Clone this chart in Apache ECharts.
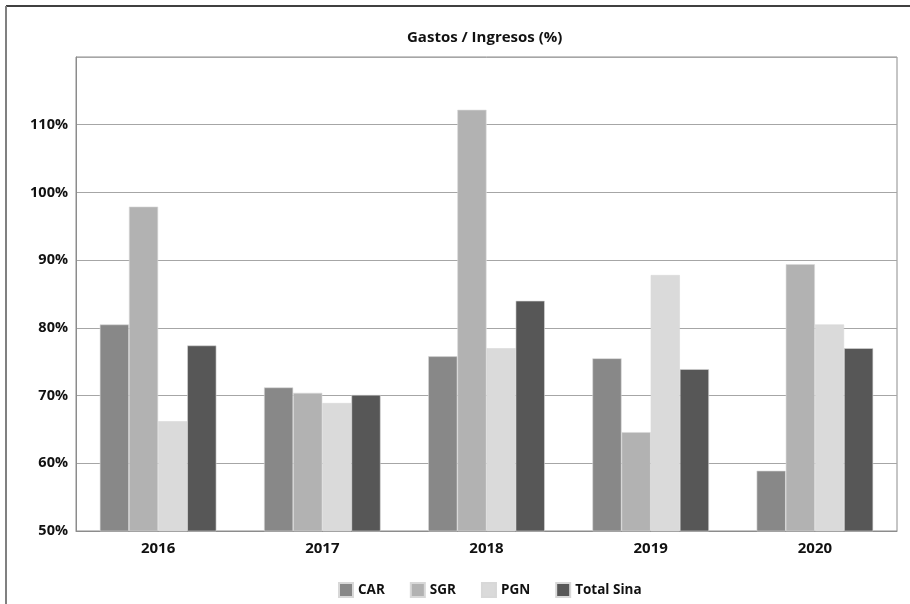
<!DOCTYPE html>
<html>
<head>
<meta charset="utf-8">
<script src="https://cdn.jsdelivr.net/npm/echarts@6/dist/echarts.min.js"></script>
<style>
  html, body { margin: 0; padding: 0; background: #fff; }
  #chart { width: 910px; height: 604px; }
</style>
</head>
<body>
<div id="chart"></div>
<script>
// Expense-to-income ratio by year and entity
const years = ['2016', '2017', '2018', '2019', '2020'];
const seriesNames = ['CAR', 'SGR', 'PGN', 'Total Sina'];
const carValues = [80.5, 71.2, 75.8, 75.5, 58.9];
const sgrValues = [97.9, 70.4, 112.2, 64.6, 89.4];
const pgnValues = [66.2, 68.9, 77.0, 87.8, 80.5];
const totalValues = [77.4, 70.1, 84.0, 73.9, 77.0];
const yTicks = [50, 60, 70, 80, 90, 100, 110];

const colors = ['#888888', '#b2b2b2', '#dadada', '#575757'];
const fontFamily = '"Open Sans", "Noto Sans", sans-serif';

const chart = echarts.init(document.getElementById('chart'));

const valueSets = [carValues, sgrValues, pgnValues, totalValues];

chart.setOption({
  animation: false,
  title: {
    text: 'Gastos / Ingresos (%)',
    left: 402,
    top: 25,
    textStyle: { fontFamily, fontSize: 15, fontWeight: 'bold', color: '#111' }
  },
  grid: {
    left: 76, right: 13, top: 57, bottom: 73,
    show: true, borderColor: '#8c8c8c', borderWidth: 1, backgroundColor: '#fff'
  },
  legend: {
    top: 577,
    left: 333,
    itemWidth: 14,
    itemHeight: 14,
    itemGap: 25,
    icon: 'rect',
    data: seriesNames,
    textStyle: { fontFamily, fontSize: 13.5, fontWeight: 'bold', color: '#111' }
  },
  xAxis: {
    type: 'category',
    data: years,
    axisLine: { show: true, lineStyle: { color: '#8c8c8c' } },
    axisTick: { show: false },
    axisLabel: { fontFamily, fontSize: 15, fontWeight: 'bold', color: '#111', margin: 10 }
  },
  yAxis: {
    type: 'value',
    min: 50,
    max: 120,
    interval: 10,
    axisLine: { show: true, lineStyle: { color: '#8c8c8c' } },
    axisTick: { show: false },
    splitLine: { lineStyle: { color: '#a6a6a6', width: 1 } },
    axisLabel: {
      fontFamily, fontSize: 14.5, fontWeight: 'bold', color: '#111', margin: 8,
      formatter: v => (yTicks.indexOf(v) >= 0 ? v + '%' : '')
    }
  },
  series: seriesNames.map((name, i) => ({
    name,
    type: 'bar',
    data: valueSets[i],
    barGap: '0%',
    barCategoryGap: '29%',
    itemStyle: { color: colors[i], borderColor: '#d8d8d8', borderWidth: 0.6 }
  })),
  graphic: [
    { type: 'line', shape: { x1: 6, y1: 6, x2: 910, y2: 6 }, style: { stroke: '#000', lineWidth: 1.5 } },
    { type: 'line', shape: { x1: 6, y1: 6, x2: 6, y2: 604 }, style: { stroke: '#808080', lineWidth: 2 } }
  ]
});
</script>
</body>
</html>
